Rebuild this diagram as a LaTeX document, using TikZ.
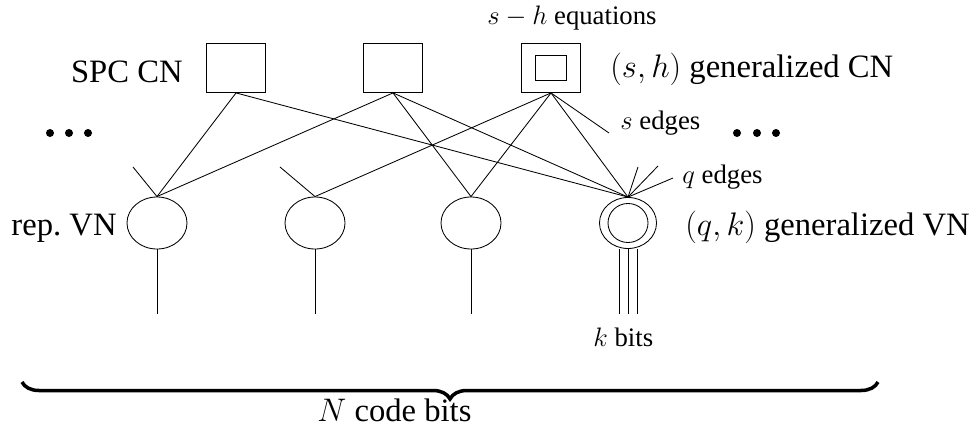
\RequirePackage{fix-cm}
\documentclass[tikz,border=0pt]{standalone}
\usepackage{fontspec}
\setmainfont{Liberation Serif}
\usetikzlibrary{shapes.geometric,decorations.pathreplacing}

\tikzset{
  cn/.style={draw, rectangle, minimum width=1.475cm, minimum height=1.225cm, inner sep=0pt},
  vn/.style={draw, ellipse, minimum width=1.5cm, minimum height=1.3cm, inner sep=0pt},
  big/.style={inner sep=0pt, font=\fontsize{23.2}{28}\selectfont},
  small/.style={inner sep=0pt, font=\fontsize{19}{23}\selectfont},
}

\begin{document}
\begin{tikzpicture}[x=0.025cm, y=-0.025cm, line width=0.6pt]
        \useasboundingbox (0,0) rectangle (977,427);
        % check nodes
        \node[cn] (cn1) at (236,68) {};
        \node[cn] (cn2) at (393,68) {};
        \node[cn] (cn3) at (551,68) {};
        \node[cn, minimum width=0.775cm, minimum height=0.625cm] (cn3in) at (551,68) {};
        % variable nodes
        \node[vn] (vn1) at (157,223) {};
        \node[vn] (vn2) at (315,223) {};
        \node[vn] (vn3) at (471,223) {};
        \node[vn, minimum width=1.425cm, minimum height=1.275cm] (vn4) at (628,223) {};
        \node[vn, minimum width=1cm, minimum height=0.975cm] (vn4in) at (628,223) {};
        % labels
        \node[big, anchor=east] (lspc) at (183,71.5) {SPC CN};
        \node[big, anchor=base east] (lrep) at (117,235) {rep.\ VN};
        \node[big, anchor=base west] (lgcn) at (610,77) {$(s,h)$ generalized CN};
        \node[big, anchor=base west] (lgvn) at (685,235) {$(q,k)$ generalized VN};
        \node[small, anchor=base west] (leq) at (487,25) {$s-h$ equations};
        \node[small, anchor=base west] (lse) at (620,129) {$s$ edges};
        \node[small, anchor=base west] (lqe) at (682,183) {$q$ edges};
        \node[small, anchor=base west] (lkb) at (593,346) {$k$ bits};
        \node[big, anchor=base west] (lnb) at (317,421) {$N$ code bits};
        % dots
        \fill (50,133) circle (4) (69,133) circle (4) (88,133) circle (4);
        \fill (737,133) circle (4) (757,133) circle (4) (776,133) circle (4);
        % edges
        \draw (cn1.south) -- (vn1.north);
        \draw (cn1.south) -- (vn4.north);
        \draw (cn2.south) -- (vn1.north);
        \draw (cn2.south) -- (vn3.north);
        \draw (cn2.south) -- (vn4.north);
        \draw (cn3.south) -- (vn2.north);
        \draw (cn3.south) -- (vn3.north);
        \draw (cn3.south) -- (vn4.north);
        % loose edges
        \coordinate (s1) at (609,133);
        \coordinate (t1) at (133,167);
        \coordinate (t2) at (280,167);
        \coordinate (q1) at (638,167);
        \coordinate (q2) at (658,166);
        \coordinate (q3) at (673,178);
        \draw (cn3.south) -- (s1);
        \draw (vn1.north) -- (t1);
        \draw (vn2.north) -- (t2);
        \draw (vn4.north) -- (q1);
        \draw (vn4.north) -- (q2);
        \draw (vn4.north) -- (q3);
        % code bits
        \coordinate (b1) at (157,314);
        \coordinate (b2) at (315,314);
        \coordinate (b3) at (471,314);
        \draw (vn1.south) -- (b1);
        \draw (vn2.south) -- (b2);
        \draw (vn3.south) -- (b3);
        \draw (vn4.south -| 619,0) -- (619,314);
        \draw (vn4.south) -- (628,314);
        \draw (vn4.south -| 637,0) -- (637,314);
        % brace
        \coordinate (br1) at (22,382);
        \coordinate (br2) at (878,382);
        \draw[line width=2.5pt, decorate, decoration={brace, mirror, amplitude=0.425cm}] (br1) -- (br2);
      \end{tikzpicture}
\end{document}
